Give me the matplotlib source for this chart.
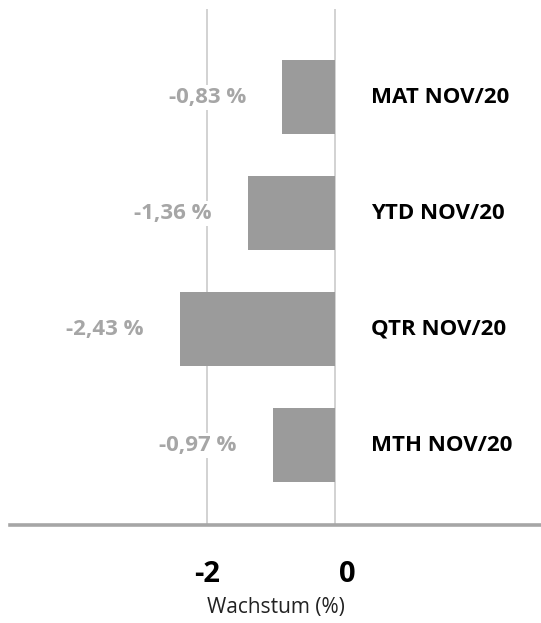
import matplotlib
matplotlib.use("Agg")
import matplotlib.pyplot as plt
import matplotlib.transforms as mtransforms

plt.rcParams["font.family"] = ["Open Sans", "DejaVu Sans"]

# Wachstum je Zeitraum, von oben nach unten
zeitraeume = ["MAT NOV/20", "YTD NOV/20", "QTR NOV/20", "MTH NOV/20"]
wachstum = [-0.83, -1.36, -2.43, -0.97]
x_ticks = [-2, 0]
x_tick_labels = ["-2", "0"]

bar_farbe = "#9b9b9b"
label_grau = "#a6a6a6"
gitter_farbe = "#c6c6c6"

fig = plt.figure(figsize=(5.41, 6.23), dpi=100)
ax = fig.add_axes([0.0185, 0.157, 0.9815, 0.8285])

pos = list(range(len(zeitraeume)))[::-1]
ax.barh(pos, wachstum, height=0.64, color=bar_farbe, zorder=2)

ax.set_xlim(-5.08, 3.22)
ax.set_ylim(-0.69, 3.76)

# senkrechte Gitterlinien bei den Ticks
for t in x_ticks:
    ax.axvline(t, color=gitter_farbe, lw=1.1, zorder=1)

for p, w, name in zip(pos, wachstum, zeitraeume):
    ax.annotate(f"{w:.2f} %".replace(".", ","), xy=(w, p),
                xytext=(-26, 0), textcoords="offset points",
                ha="right", va="center", fontsize=16, fontweight="bold",
                color=label_grau, zorder=3,
                bbox=dict(facecolor="white", edgecolor="none", pad=1.5))
    ax.text(0.56, p, name, ha="left", va="center", fontsize=16,
            fontweight="bold", color="black", zorder=3)

for s in ["top", "right", "left"]:
    ax.spines[s].set_visible(False)
ax.spines["bottom"].set_color("#a6a6a6")
ax.spines["bottom"].set_linewidth(2.6)
ax.spines["bottom"].set_zorder(4)

ax.set_yticks([])
ax.set_xticks(x_ticks)
ax.set_xticklabels(x_tick_labels, fontsize=21, fontweight="bold")
ax.tick_params(axis="x", length=0, pad=25)

# die Null sitzt etwas rechts von ihrer Gitterlinie
null_label = ax.get_xticklabels()[1]
null_label.set_transform(null_label.get_transform() +
                         mtransforms.ScaledTranslation(12 / 100, 0, fig.dpi_scale_trans))

ax.set_xlabel("Wachstum (%)", fontsize=15, labelpad=6, color="#222222")

fig.savefig("out.png", dpi=100, facecolor="white")
